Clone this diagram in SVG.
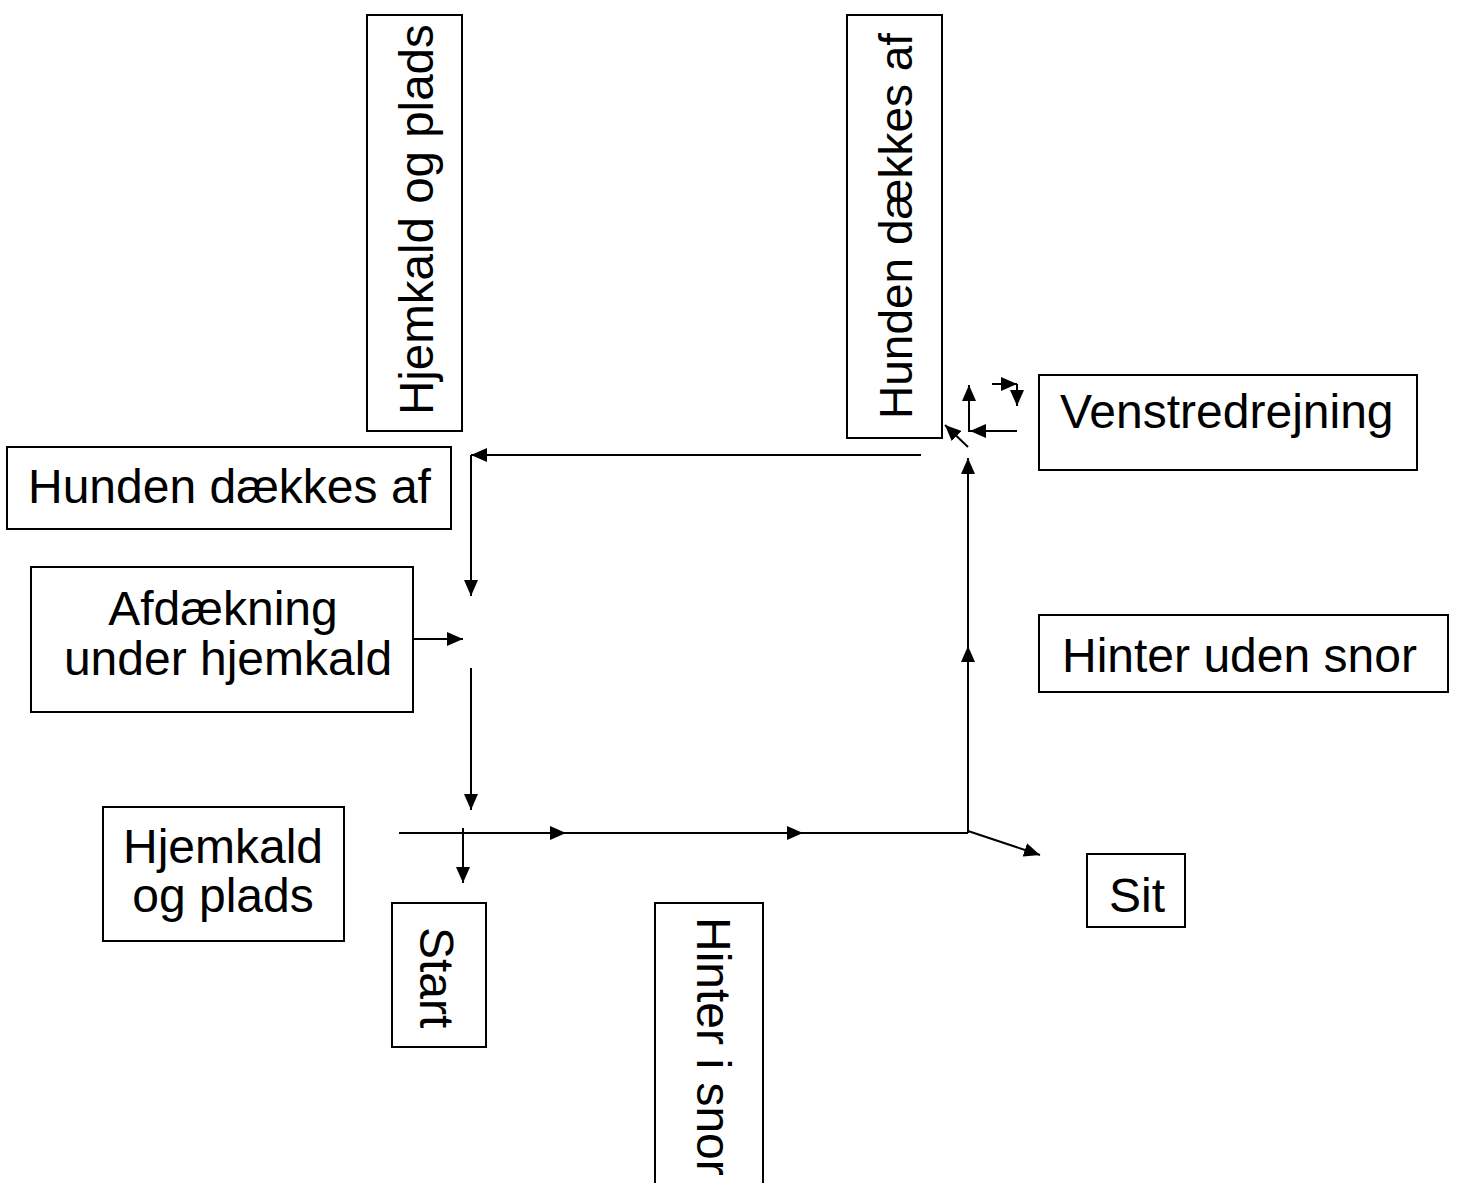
<svg xmlns="http://www.w3.org/2000/svg" width="1457" height="1183" viewBox="0 0 1457 1183">
<defs>
<style>
.box{fill:#fff;stroke:#000;stroke-width:2}
.t{font-family:"Liberation Sans",Arial,sans-serif;font-size:48px;fill:#000}
.v{font-size:46px}
.v2{font-size:47.5px}
.c{stroke:#000;stroke-width:2;fill:none}
</style>
<marker id="ah" markerUnits="userSpaceOnUse" markerWidth="16" markerHeight="14" refX="16" refY="7" orient="auto">
<path d="M0,0 L16,7 L0,14 Z" fill="#000"/>
</marker>
</defs>
<rect width="1457" height="1183" fill="#fff"/>
<g id="n-hjemkald-v"><rect class="box" x="367" y="15" width="95" height="416"/><text class="t v2" transform="translate(433,415) rotate(-90)">Hjemkald og plads</text></g>
<g id="n-hunden-v"><rect class="box" x="847" y="15" width="95" height="423"/><text class="t v" transform="translate(912,419) rotate(-90)">Hunden dækkes af</text></g>
<g id="n-hunden-h"><rect class="box" x="7" y="447" width="444" height="82"/><text class="t" x="28" y="503">Hunden dækkes af</text></g>
<g id="n-afdaekning"><rect class="box" x="31" y="567" width="382" height="145"/><text class="t" x="223" y="625" text-anchor="middle">Afdækning</text><text class="t" x="228" y="675" text-anchor="middle">under hjemkald</text></g>
<g id="n-hjemkald-h"><rect class="box" x="103" y="807" width="241" height="134"/><text class="t" x="223" y="863" text-anchor="middle">Hjemkald</text><text class="t" x="223" y="912" text-anchor="middle">og plads</text></g>
<g id="n-start"><rect class="box" x="392" y="903" width="94" height="144"/><text class="t" transform="translate(420,927) rotate(90)">Start</text></g>
<g id="n-hinter-snor"><rect class="box" x="655" y="903" width="108" height="290"/><text class="t" transform="translate(697,917) rotate(90)">Hinter i snor</text></g>
<g id="n-venstre"><rect class="box" x="1039" y="375" width="378" height="95"/><text class="t" x="1060" y="428">Venstredrejning</text></g>
<g id="n-hinter-uden"><rect class="box" x="1039" y="615" width="409" height="77"/><text class="t" x="1062" y="672">Hinter uden snor</text></g>
<g id="n-sit"><rect class="box" x="1087" y="854" width="98" height="73"/><text class="t" x="1137" y="912" text-anchor="middle">Sit</text></g>
<g id="connectors">
<line class="c" x1="399" y1="833" x2="566" y2="833" marker-end="url(#ah)"/>
<line class="c" x1="566" y1="833" x2="803" y2="833" marker-end="url(#ah)"/>
<line class="c" x1="803" y1="833" x2="968" y2="833"/>
<line class="c" x1="463" y1="828" x2="463" y2="883" marker-end="url(#ah)"/>
<line class="c" x1="968" y1="833" x2="968" y2="646" marker-end="url(#ah)"/>
<line class="c" x1="968" y1="646" x2="968" y2="458" marker-end="url(#ah)"/>
<line class="c" x1="968" y1="831" x2="1040" y2="855" marker-end="url(#ah)"/>
<line class="c" x1="921" y1="455" x2="471" y2="455" marker-end="url(#ah)"/>
<line class="c" x1="471" y1="455" x2="471" y2="596" marker-end="url(#ah)"/>
<line class="c" x1="414" y1="639" x2="463" y2="639" marker-end="url(#ah)"/>
<line class="c" x1="471" y1="668" x2="471" y2="810" marker-end="url(#ah)"/>
<line class="c" x1="969" y1="432" x2="969" y2="385" marker-end="url(#ah)"/>
<line class="c" x1="1017" y1="431" x2="970" y2="431" marker-end="url(#ah)"/>
<line class="c" x1="968" y1="447" x2="945" y2="425" marker-end="url(#ah)"/>
<line class="c" x1="992" y1="384" x2="1017" y2="384" marker-end="url(#ah)"/>
<line class="c" x1="1017" y1="384" x2="1017" y2="406" marker-end="url(#ah)"/>
</g>
</svg>
